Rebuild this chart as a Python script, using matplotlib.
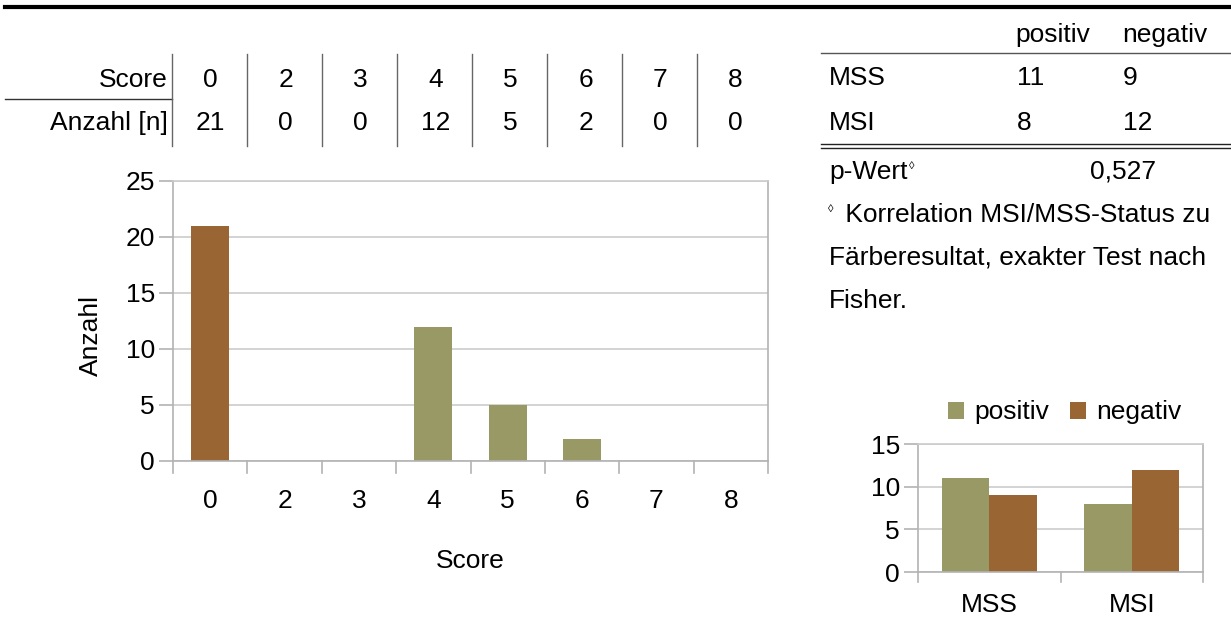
import matplotlib
matplotlib.use("Agg")
import matplotlib.pyplot as plt
from matplotlib.lines import Line2D
import numpy as np

plt.rcParams['font.family'] = ['Liberation Sans', 'DejaVu Sans']

# data
scores = ['0', '2', '3', '4', '5', '6', '7', '8']
counts = [21, 0, 0, 12, 5, 2, 0, 0]
groups = ['MSS', 'MSI']
positiv = [11, 8]
negativ = [9, 12]
p_value = '0,527'

OLIVE = '#999966'
BROWN = '#996633'
GRID = '#cccccc'
AXC = '#b3b3b3'
FS = 19

W, H = 1231, 619
fig = plt.figure(figsize=(W / 100, H / 100), dpi=100)


def fx(x):
    return x / W


def fy(y):
    return 1 - y / H


def hline(x0, x1, y, lw=1.0, color='black'):
    fig.add_artist(Line2D([fx(x0), fx(x1)], [fy(y), fy(y)], lw=lw, color=color,
                          transform=fig.transFigure))


def vline(x, y0, y1, lw=1.0, color='black'):
    fig.add_artist(Line2D([fx(x), fx(x)], [fy(y0), fy(y1)], lw=lw, color=color,
                          transform=fig.transFigure))


def txt(x, y, s, ha='left', size=FS, **kw):
    return fig.text(fx(x), fy(y), s, ha=ha, va='center', fontsize=size, **kw)


def sup(t, s='\u25ca'):
    # small lozenge attached to the top right of a text
    fig.add_artist(plt.Annotation(s, xy=(1, 1), xycoords=t, xytext=(1, -1),
                                  textcoords='offset points', ha='left', va='top',
                                  fontsize=8))


# thick rule at the top
hline(5, 1231, 7, lw=3.0)

# left table: score / count
col_w = 75
sep0 = 172
txt(168, 80, 'Score', ha='right')
txt(168, 123, 'Anzahl [n]', ha='right')
hline(5, sep0, 99, lw=1.0, color='#333333')
for i, (s, c) in enumerate(zip(scores, counts)):
    xs = sep0 + i * col_w
    vline(xs, 54, 146, lw=1.0, color='#666666')
    txt(xs + col_w / 2 + 1, 80, s, ha='center')
    txt(xs + col_w / 2 + 1, 123, str(c), ha='center')

# right table: MSS/MSI contingency
txt(1015, 35, 'positiv')
txt(1122, 35, 'negativ')
hline(821, 1231, 53, lw=1.0, color='#555555')
for i, g in enumerate(groups):
    yy = 78 + i * 45
    txt(829, yy, g)
    txt(1017, yy, str(positiv[i]))
    txt(1123, yy, str(negativ[i]))
hline(821, 1231, 144, lw=1.0, color='#222222')
hline(821, 1231, 148, lw=1.0, color='#222222')
pw = txt(829, 172, 'p-Wert')
sup(pw)
txt(1090, 172, p_value)
txt(828, 209, '\u25ca', size=8)
txt(838, 215, ' Korrelation MSI/MSS-Status zu')
txt(829, 258, 'Färberesultat, exakter Test nach')
txt(829, 301, 'Fisher.')


def style_axes(ax, pad):
    ax.set_axisbelow(True)
    ax.yaxis.grid(True, color=GRID, lw=1.2)
    for side in ['left', 'right', 'bottom']:
        ax.spines[side].set_color(AXC)
        ax.spines[side].set_linewidth(1.2)
    ax.spines['top'].set_color(GRID)
    ax.spines['top'].set_linewidth(1.2)
    ax.tick_params(axis='y', length=10, color=AXC, width=1.2, labelsize=FS, pad=3)
    ax.tick_params(axis='x', length=0, labelsize=FS, pad=pad)
    ax.set_facecolor('white')


# main bar chart
ax = fig.add_axes([fx(173), fy(461), fx(768) - fx(173), fy(181) - fy(461)])
xpos = np.arange(len(scores))
bar_colors = [BROWN if s == '0' else OLIVE for s in scores]
ax.bar(xpos, counts, width=0.51, color=bar_colors)
ax.set_xlim(-0.5, len(scores) - 0.5)
ax.set_ylim(0, 25)
ax.set_yticks([0, 5, 10, 15, 20, 25])
ax.set_xticks(xpos)
ax.set_xticklabels(scores)
style_axes(ax, 20)
for b in np.arange(len(scores) + 1) - 0.5:
    ax.plot([b, b], [0, -1.1], color=AXC, lw=1.2, clip_on=False)
ax.set_xlabel('Score', fontsize=FS, labelpad=26)
ax.set_ylabel('Anzahl', fontsize=FS)
ax.yaxis.set_label_coords(-0.118, 0.45)

# small grouped bar chart
ax2 = fig.add_axes([fx(918), fy(572), fx(1203) - fx(918), fy(444) - fy(572)])
gpos = np.arange(len(groups))
bw = 0.335
ax2.bar(gpos - bw / 2, positiv, width=bw, color=OLIVE, label='positiv')
ax2.bar(gpos + bw / 2, negativ, width=bw, color=BROWN, label='negativ')
ax2.set_xlim(-0.5, len(groups) - 0.5)
ax2.set_ylim(0, 15)
ax2.set_yticks([0, 5, 10, 15])
ax2.set_xticks(gpos)
ax2.set_xticklabels(groups)
style_axes(ax2, 15)
for b in np.arange(len(groups) + 1) - 0.5:
    ax2.plot([b, b], [0, -1.2], color=AXC, lw=1.2, clip_on=False)
ax2.legend(loc='lower center', bbox_to_anchor=(0.515, 1.07), ncol=2, frameon=False,
           fontsize=FS, handlelength=0.6, handleheight=0.6, handletextpad=0.4,
           columnspacing=0.8, borderaxespad=0)

fig.savefig('out.png', dpi=100, facecolor='white')
